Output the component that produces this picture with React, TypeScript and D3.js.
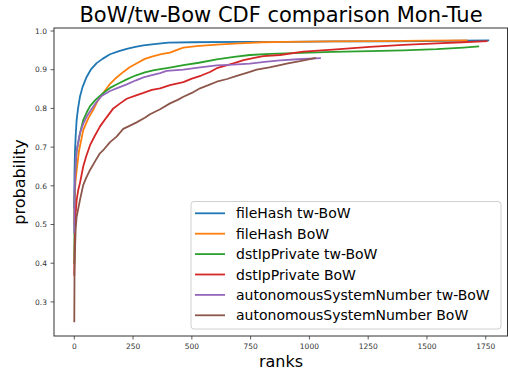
import React from "react";
import * as d3 from "d3";

const xTicks = [0, 250, 500, 750, 1000, 1250, 1500, 1750];
const yTicks = [0.3, 0.4, 0.5, 0.6, 0.7, 0.8, 0.9, 1.0];

const seriesNames = [
  "fileHash tw-BoW",
  "fileHash BoW",
  "dstIpPrivate tw-BoW",
  "dstIpPrivate BoW",
  "autonomousSystemNumber tw-BoW",
  "autonomousSystemNumber BoW",
];

const fileHashTw: [number, number][] = [
  [0, 0.545], [1, 0.64], [3, 0.69], [6, 0.73], [10, 0.77], [16, 0.8], [24, 0.83], [35, 0.855],
  [53, 0.882], [70, 0.9], [95, 0.917], [120, 0.928], [152, 0.94], [190, 0.948], [223, 0.954],
  [260, 0.959], [294, 0.963], [340, 0.966], [400, 0.97], [500, 0.971], [700, 0.972], [900, 0.972],
  [1100, 0.973], [1300, 0.973], [1500, 0.974], [1650, 0.975], [1761, 0.976],
];
const fileHashBow: [number, number][] = [
  [0, 0.5], [2, 0.58], [5, 0.61], [10, 0.64], [20, 0.69], [38, 0.744], [60, 0.775], [81, 0.797],
  [100, 0.82], [123, 0.84], [150, 0.862], [180, 0.88], [210, 0.895], [237, 0.907], [270, 0.918],
  [300, 0.928], [330, 0.934], [370, 0.94], [407, 0.944], [440, 0.952], [464, 0.957], [520, 0.961],
  [606, 0.965], [700, 0.968], [800, 0.971], [900, 0.972], [1100, 0.973], [1300, 0.974],
  [1500, 0.975], [1669, 0.976],
];
const dstIpTw: [number, number][] = [
  [0, 0.4], [1, 0.55], [3, 0.62], [6, 0.66], [10, 0.69], [24, 0.735], [38, 0.77], [53, 0.79],
  [67, 0.806], [90, 0.822], [109, 0.832], [130, 0.843], [152, 0.853], [190, 0.865], [223, 0.875],
  [260, 0.885], [300, 0.893], [340, 0.899], [400, 0.905], [464, 0.912], [530, 0.918], [606, 0.927],
  [680, 0.933], [747, 0.938], [832, 0.941], [900, 0.942], [1000, 0.944], [1100, 0.946],
  [1257, 0.948], [1400, 0.95], [1541, 0.953], [1655, 0.957], [1718, 0.96],
];
const dstIpBow: [number, number][] = [
  [0, 0.37], [1, 0.43], [3, 0.48], [6, 0.53], [10, 0.563], [17, 0.59], [24, 0.607], [38, 0.65],
  [50, 0.675], [67, 0.705], [88, 0.73], [109, 0.753], [135, 0.775], [166, 0.8], [195, 0.813],
  [223, 0.825], [260, 0.833], [294, 0.84], [330, 0.848], [365, 0.852], [407, 0.86], [464, 0.868],
  [500, 0.877], [540, 0.885], [577, 0.894], [610, 0.905], [640, 0.91], [680, 0.917], [720, 0.925],
  [760, 0.93], [804, 0.935], [875, 0.938], [974, 0.947], [1100, 0.952], [1257, 0.959],
  [1400, 0.964], [1541, 0.968], [1650, 0.971], [1754, 0.974],
];
const asnTw: [number, number][] = [
  [0, 0.48], [1, 0.57], [3, 0.62], [6, 0.66], [10, 0.69], [24, 0.736], [38, 0.76], [53, 0.779],
  [75, 0.8], [95, 0.817], [116, 0.832], [152, 0.845], [185, 0.853], [223, 0.862], [260, 0.872],
  [294, 0.88], [330, 0.886], [365, 0.891], [393, 0.897], [464, 0.9], [535, 0.906], [606, 0.911],
  [676, 0.913], [747, 0.916], [810, 0.92], [875, 0.924], [950, 0.927], [1045, 0.93],
];
const asnBow: [number, number][] = [
  [0, 0.25], [1, 0.38], [3, 0.434], [6, 0.49], [10, 0.52], [24, 0.563], [38, 0.602], [50, 0.62],
  [67, 0.641], [90, 0.665], [109, 0.684], [123, 0.692], [152, 0.713], [180, 0.727], [208, 0.747],
  [235, 0.755], [265, 0.764], [300, 0.776], [322, 0.785], [365, 0.798], [407, 0.813], [440, 0.822],
  [464, 0.83], [500, 0.84], [535, 0.852], [570, 0.86], [606, 0.869], [650, 0.876], [691, 0.884],
  [740, 0.893], [776, 0.9], [830, 0.906], [875, 0.912], [903, 0.916], [960, 0.922], [1024, 0.93],
];

const seriesData = [fileHashTw, fileHashBow, dstIpTw, dstIpBow, asnTw, asnBow];
const colors = ["#1f77b4", "#ff7f0e", "#2ca02c", "#d62728", "#9467bd", "#8c564b"];

const W = 508;
const H = 374;
const L = 54;
const R = 507.5;
const T = 28;
const B = 336;
const FONT = "'DejaVu Sans', sans-serif";

export default function App() {
  const xs = d3.scaleLinear().domain([-86.3, 1844.7]).range([L, 508]);
  const ys = d3.scaleLinear().domain([0.2119, 1.0078]).range([B, T]);
  const line = d3
    .line<[number, number]>()
    .x((d) => xs(d[0]))
    .y((d) => ys(d[1]));

  const legX = 191;
  const legY = 201.5;
  const legW = 310;
  const legH = 127.5;
  const rowY = (i: number) => 213.3 + i * 20.4;

  return (
    <svg
      width={W}
      height={H}
      style={{ position: "absolute", left: 0, top: 0, background: "#fff" }}
      fontFamily={FONT}
    >
      <rect x={0} y={0} width={W} height={H} fill="#fff" />
      <text x={(L + 508) / 2} y={22} textAnchor="middle" fontSize={21} fill="#000">
        BoW/tw-Bow CDF comparison Mon-Tue
      </text>
      <defs>
        <clipPath id="plotclip">
          <rect x={L} y={T} width={R - L} height={B - T} />
        </clipPath>
      </defs>
      <g clipPath="url(#plotclip)">
        {seriesData.map((s, i) => (
          <path
            key={i}
            d={line(s) || ""}
            fill="none"
            stroke={colors[i]}
            strokeWidth={1.8}
            strokeLinejoin="round"
            strokeLinecap="square"
          />
        ))}
      </g>
      <rect x={L} y={T} width={R - L} height={B - T} fill="none" stroke="#333" strokeWidth={1} />
      {xTicks.map((t) => (
        <g key={t}>
          <line x1={xs(t)} x2={xs(t)} y1={B} y2={B + 3.5} stroke="#333" strokeWidth={0.8} />
          <text x={xs(t)} y={349} textAnchor="middle" fontSize={7.5} fill="#333">
            {t}
          </text>
        </g>
      ))}
      {yTicks.map((t) => (
        <g key={t}>
          <line x1={L - 3.5} x2={L} y1={ys(t)} y2={ys(t)} stroke="#333" strokeWidth={0.8} />
          <text x={47} y={ys(t) + 2.7} textAnchor="end" fontSize={7.5} fill="#333">
            {t.toFixed(1)}
          </text>
        </g>
      ))}
      <text x={(L + 508) / 2} y={367} textAnchor="middle" fontSize={16} fill="#000">
        ranks
      </text>
      <text
        transform={`translate(25,${(T + B) / 2}) rotate(-90)`}
        textAnchor="middle"
        fontSize={16}
        fill="#000"
      >
        probability
      </text>
      <rect
        x={legX}
        y={legY}
        width={legW}
        height={legH}
        rx={3}
        fill="#fff"
        fillOpacity={0.8}
        stroke="#d0d0d0"
        strokeWidth={1}
      />
      {seriesNames.map((n, i) => (
        <g key={n}>
          <line x1={195} x2={225} y1={rowY(i)} y2={rowY(i)} stroke={colors[i]} strokeWidth={1.8} />
          <text x={236} y={rowY(i) + 5} fontSize={14} fill="#000">
            {n}
          </text>
        </g>
      ))}
    </svg>
  );
}
